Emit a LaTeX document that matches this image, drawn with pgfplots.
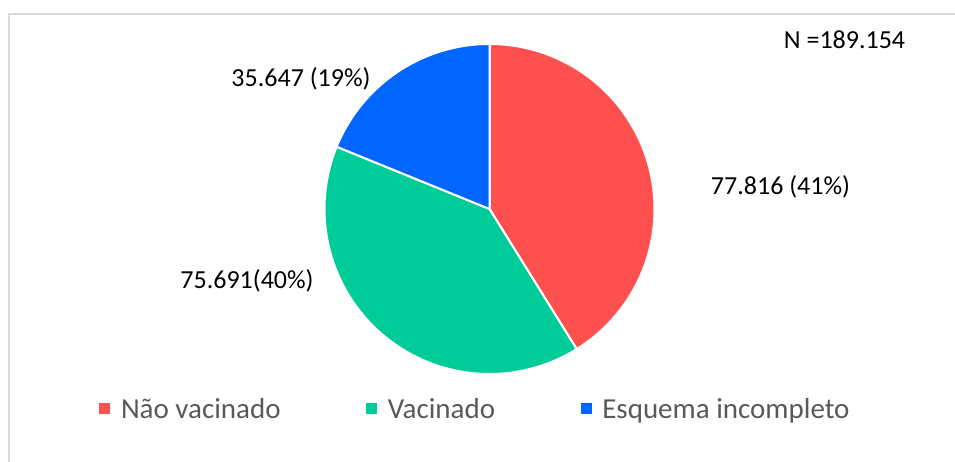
\documentclass[border=0pt]{standalone}
\usepackage{pgfplots}
\usepackage{pgfplotstable}
\usepackage{fontspec}
\setmainfont{Carlito}
\pgfplotsset{compat=1.18}
\definecolor{redc}{HTML}{FF5050}
\definecolor{greenc}{HTML}{00CC99}
\definecolor{bluec}{HTML}{0066FF}
\definecolor{legtxt}{HTML}{595959}
\definecolor{framec}{HTML}{D9D9D9}
\pgfplotstableread{
label value
Nao 77816
Vac 75691
Esq 35647
}\piedata
\pgfplotstablegetelem{0}{value}\of\piedata \let\vA\pgfplotsretval%
\pgfplotstablegetelem{1}{value}\of\piedata \let\vB\pgfplotsretval%
\pgfplotstablegetelem{2}{value}\of\piedata \let\vC\pgfplotsretval%
\edef\total{\fpeval{\vA+\vB+\vC}}%
\edef\aA{\fpeval{round(90-360*\vA/\total,4)}}%
\edef\aB{\fpeval{round(\aA-360*\vB/\total,4)}}%
\edef\aC{\fpeval{round(\aB-360*\vC/\total,4)}}%
\begin{document}%
\begin{tikzpicture}
\begin{axis}[
  x=1pt, y=1pt, xmin=0, xmax=955, ymin=0, ymax=462,
  hide axis, clip=false,
  legend columns=3,
  legend image code/.code={\fill[#1,draw=none] (0pt,-5.5pt) rectangle (11pt,5.5pt);},
  legend style={at={(axis cs:99.3,53)}, anchor=west, draw=none, fill=none,
    inner sep=0pt, outer sep=0pt,
    font=\fontsize{29}{34}\selectfont, text=legtxt,
    nodes={inner sep=0pt},
    /tikz/column sep=10.7pt,
    /tikz/every even column/.append style={column sep=85.5pt}},
]
\draw[framec, line width=1.3pt] (axis cs:9,-20) -- (axis cs:9,448) -- (axis cs:975,448);
\addplot[fill=redc, draw=white, line width=2pt, line join=round, domain=\aA:90, samples=150, forget plot]
  ({489.5+165*cos(x)}, {253+165*sin(x)}) -- (axis cs:489.5,253) -- cycle;
\addplot[fill=greenc, draw=white, line width=2pt, line join=round, domain=\aB:\aA, samples=150, forget plot]
  ({489.5+165*cos(x)}, {253+165*sin(x)}) -- (axis cs:489.5,253) -- cycle;
\addplot[fill=bluec, draw=white, line width=2pt, line join=round, domain=\aC:\aB, samples=100, forget plot]
  ({489.5+165*cos(x)}, {253+165*sin(x)}) -- (axis cs:489.5,253) -- cycle;
\addlegendimage{fill=redc, draw=none}
\addlegendentry{Não vacinado}
\addlegendimage{fill=greenc, draw=none}
\addlegendentry{Vacinado}
\addlegendimage{fill=bluec, draw=none}
\addlegendentry{Esquema incompleto}
\node[anchor=base, font=\fontsize{26}{31}\selectfont] at (axis cs:780.5,267) {77.816 (41\%)};
\node[anchor=base, font=\fontsize{26}{31}\selectfont] at (axis cs:247,173) {75.691(40\%)};
\node[anchor=base, font=\fontsize{26}{31}\selectfont] at (axis cs:301,375) {35.647 (19\%)};
\node[anchor=base, font=\fontsize{26}{31}\selectfont] at (axis cs:844.5,413) {N =189.154};
\end{axis}
\pgfresetboundingbox
\useasboundingbox (0,0) rectangle (955pt,462pt);
\end{tikzpicture}%
\end{document}
